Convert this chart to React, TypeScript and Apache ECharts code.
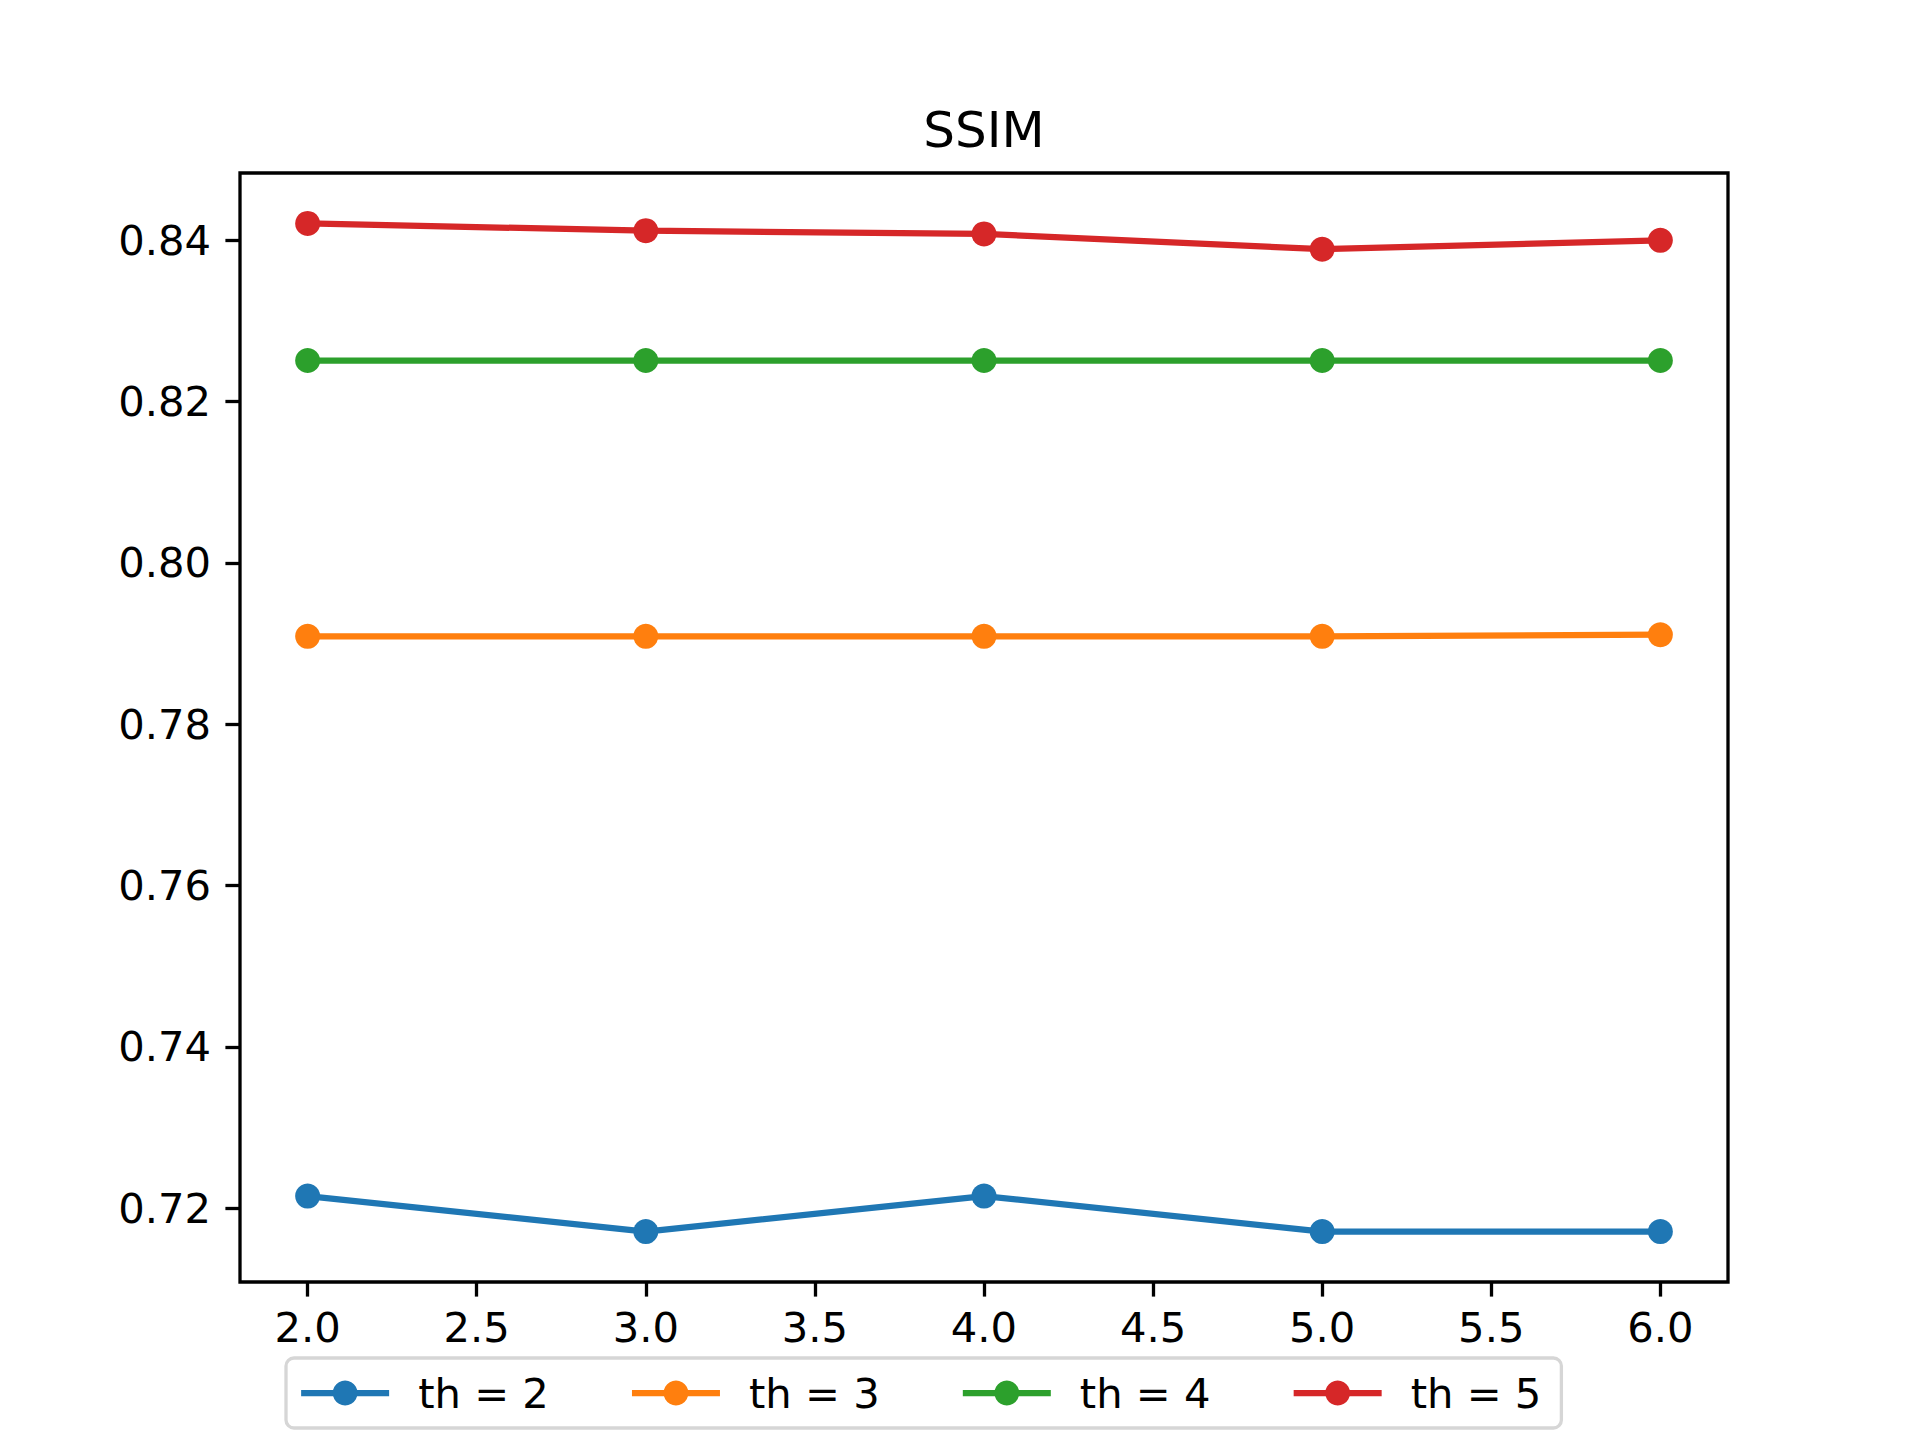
import React, { useEffect, useRef } from "react";
import * as echarts from "echarts";

const xValues = [2, 3, 4, 5, 6];
const seriesNames = ["th = 2", "th = 3", "th = 4", "th = 5"];
const th2 = [0.7215, 0.7171, 0.7215, 0.7171, 0.7171];
const th3 = [0.7909, 0.7909, 0.7909, 0.7909, 0.7911];
const th4 = [0.8251, 0.8251, 0.8251, 0.8251, 0.8251];
const th5 = [0.8421, 0.8412, 0.8408, 0.8389, 0.8400];
const xTicks = [2, 2.5, 3, 3.5, 4, 4.5, 5, 5.5, 6];
const yTicks = [0.72, 0.74, 0.76, 0.78, 0.8, 0.82, 0.84];
const colors = ["#1f77b4", "#ff7f0e", "#2ca02c", "#d62728"];
const title = "SSIM";

const FONT = "DejaVu Sans";

export default function App() {
  const ref = useRef<HTMLDivElement>(null);
  useEffect(() => {
    if (!ref.current) return;
    const chart = echarts.init(ref.current, null, { renderer: "svg" });
    const all = [th2, th3, th4, th5];
    const flat = all.flat();
    const dmin = Math.min(...flat);
    const dmax = Math.max(...flat);
    const pad = (dmax - dmin) * 0.05;
    const xPad = (xValues[xValues.length - 1] - xValues[0]) * 0.05;
    chart.setOption({
      animation: false,
      backgroundColor: "#ffffff",
      title: {
        text: title,
        left: 979,
        textAlign: "center",
        top: 100,
        textStyle: { fontFamily: FONT, fontSize: 50, fontWeight: "normal", color: "#000" },
      },
      grid: {
        left: 240,
        top: 173,
        width: 1488,
        height: 1109,
        show: true,
        borderColor: "#000",
        borderWidth: 3.3,
        backgroundColor: "transparent",
      },
      legend: {
        data: seriesNames,
        left: 286,
        top: 1358,
        orient: "horizontal",
        itemWidth: 88,
        itemHeight: 31,
        itemGap: 80,
        padding: [14, 20, 14, 12],
        borderColor: "#d6d6d6",
        borderWidth: 3.3,
        borderRadius: 8,
        backgroundColor: "#ffffff",
        lineStyle: { width: 6.25 },
        textStyle: { fontFamily: FONT, fontSize: 41.7, color: "#000", padding: [0, 0, 0, 24] },
      },
      xAxis: {
        type: "value",
        min: xValues[0] - xPad,
        max: xValues[xValues.length - 1] + xPad,
        splitLine: { show: false },
        axisLine: { show: false },
        axisTick: {
          show: true,
          customValues: xTicks,
          length: 14.6,
          lineStyle: { color: "#000", width: 3.3 },
        },
        axisLabel: {
          customValues: xTicks,
          formatter: (v: number) => v.toFixed(1),
          fontFamily: FONT,
          fontSize: 41.7,
          color: "#000",
          margin: 24,
        },
      },
      yAxis: {
        type: "value",
        min: dmin - pad,
        max: dmax + pad,
        splitLine: { show: false },
        axisLine: { show: false },
        axisTick: {
          show: true,
          customValues: yTicks,
          length: 14.6,
          lineStyle: { color: "#000", width: 3.3 },
        },
        axisLabel: {
          customValues: yTicks,
          formatter: (v: number) => v.toFixed(2),
          fontFamily: FONT,
          fontSize: 41.7,
          color: "#000",
          margin: 29,
        },
      },
      series: all.map((vals, i) => ({
        name: seriesNames[i],
        type: "line",
        data: xValues.map((x, j) => [x, vals[j]]),
        symbol: "circle",
        symbolSize: 25,
        showSymbol: true,
        color: colors[i],
        lineStyle: { color: colors[i], width: 6.25 },
        itemStyle: { color: colors[i] },
      })),
    });
    return () => chart.dispose();
  }, []);
  return (
    <div
      ref={ref}
      style={{ position: "fixed", left: 0, top: 0, width: 1920, height: 1440 }}
    />
  );
}
